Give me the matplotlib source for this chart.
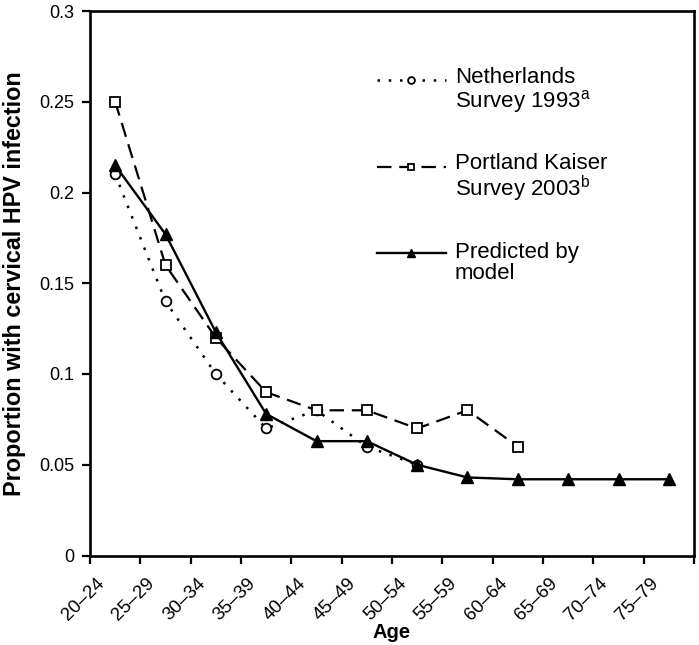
import matplotlib
matplotlib.use('Agg')
import matplotlib.pyplot as plt
import matplotlib.transforms as mtransforms
import numpy as np

plt.rcParams['font.family'] = ['Liberation Sans', 'DejaVu Sans']
plt.rcParams['mathtext.fontset'] = 'custom'
plt.rcParams['mathtext.rm'] = 'Liberation Sans'

# data
age_groups = ['20–24', '25–29', '30–34', '35–39', '40–44', '45–49',
              '50–54', '55–59', '60–64', '65–69', '70–74', '75–79']
netherlands = [0.21, 0.14, 0.10, 0.07, 0.08, 0.06, 0.05]
portland = [0.25, 0.16, 0.12, 0.09, 0.08, 0.08, 0.07, 0.08, 0.06]
predicted = [0.215, 0.177, 0.123, 0.078, 0.063, 0.063, 0.050, 0.043,
             0.042, 0.042, 0.042, 0.042]

fig = plt.figure(figsize=(6.99, 6.45), dpi=100)
ax = fig.add_axes([90/699, 1 - 555.5/645, 604/699, 544.5/645])

x = np.arange(len(age_groups)) + 0.5

ax.plot(x[:len(netherlands)], netherlands, linestyle=(0, (1, 3.5)), color='black',
        linewidth=1.8, marker='o', markersize=7, markerfacecolor='white',
        markeredgecolor='black', markeredgewidth=1.3,
        label='Netherlands\nSurvey 1993$^{\\mathrm{a}}$')
ax.plot(x[:len(portland)], portland, linestyle=(0, (6.5, 3.5)), color='black',
        linewidth=1.6, marker='s', markersize=6.5, markerfacecolor='white',
        markeredgecolor='black', markeredgewidth=1.3,
        label='Portland Kaiser\nSurvey 2003$^{\\mathrm{b}}$')
ax.plot(x, predicted, linestyle='-', color='black', linewidth=1.7,
        marker='^', markersize=8, markerfacecolor='black',
        markeredgecolor='black', label='Predicted by\nmodel')

ax.set_xlim(0, len(age_groups))
ax.set_ylim(0, 0.3)
ax.set_yticks([0, 0.05, 0.1, 0.15, 0.2, 0.25, 0.3])
ax.set_yticklabels(['0', '0.05', '0.1', '0.15', '0.2', '0.25', '0.3'])
ax.set_xticks(np.arange(len(age_groups) + 1))
ax.set_xticklabels(age_groups + [''])

ax.tick_params(axis='both', direction='out', length=6, width=1.6,
               labelsize=13, colors='black')
ax.tick_params(axis='x', labelsize=13.5, pad=8)
ax.tick_params(axis='y', pad=5)
for s in ax.spines.values():
    s.set_linewidth(1.9)

# rotated category labels, shifted right of their tick
shift = mtransforms.ScaledTranslation(18/100, 0, fig.dpi_scale_trans)
for lbl in ax.xaxis.get_majorticklabels():
    lbl.set_rotation(45)
    lbl.set_ha('right')
    lbl.set_va('top')
    lbl.set_transform(lbl.get_transform() + shift)

ax.set_xlabel('Age', fontsize=14.5, fontweight='bold', labelpad=-1)
ax.set_ylabel('Proportion with cervical HPV infection', fontsize=16.8,
              fontweight='bold', labelpad=10)

leg = ax.legend(loc='upper left', bbox_to_anchor=(0.475, 0.897), frameon=False,
                fontsize=16, handlelength=3.1, handletextpad=0.4,
                labelspacing=1.7, markerscale=0.7, borderpad=0,
                borderaxespad=0)
for t in leg.get_texts():
    t.set_linespacing(1.0)

# move each legend handle up to the first line of its label
fig.canvas.draw()
for t, ln in zip(leg.get_texts(), leg.legend_handles):
    bb = t.get_window_extent()
    target = bb.y1 - 0.27 * bb.height
    cur = ln.get_transform().transform(ln.get_xydata())[0, 1]
    dy = (target - cur) / fig.dpi
    ln.set_transform(ln.get_transform() +
                     mtransforms.ScaledTranslation(0, dy, fig.dpi_scale_trans))

plt.savefig('out.png', dpi=100)
